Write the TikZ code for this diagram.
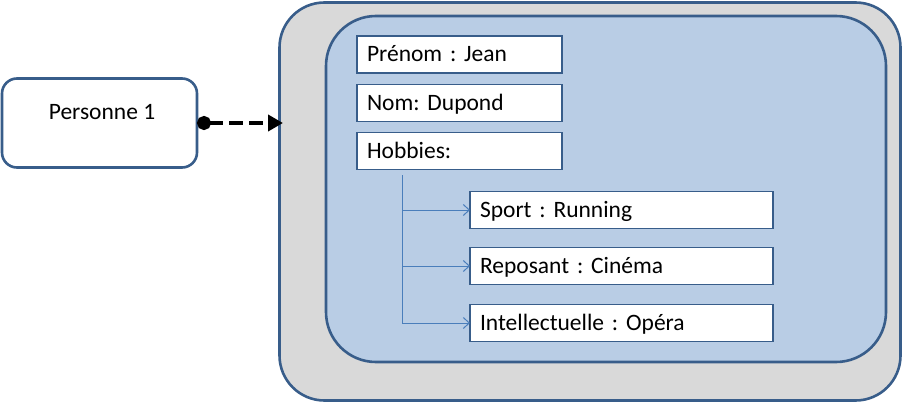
\documentclass[tikz,border=0pt]{standalone}
\usepackage{fontspec}
\setmainfont{Carlito}
\frenchspacing
\usetikzlibrary{arrows.meta,calc}
\definecolor{dkblue}{HTML}{385D8A}
\definecolor{lineblue}{HTML}{4A7EBB}
\definecolor{innerfill}{HTML}{B9CDE5}
\definecolor{outerfill}{HTML}{D9D9D9}
\tikzset{
  txt/.style={font=\fontsize{23.5}{28}\selectfont},
  roundbox/.style={draw=dkblue, line width=2.6pt, inner sep=0pt, outer sep=0pt},
  fieldbox/.style={draw=dkblue, line width=1.2pt, fill=white, txt, inner xsep=10pt, inner ysep=0pt,
     outer sep=0pt, minimum height=37pt, text height=17pt, text depth=2pt, align=left},
  link/.style={draw=lineblue, line width=1pt, -{Straight Barb[length=6pt,width=11pt]}},
}
\begin{document}
\begin{tikzpicture}[x=1pt,y=-1pt]
\useasboundingbox (0,0) rectangle (904,404);
% outer containers
\node[roundbox, fill=outerfill, rounded corners=45pt, minimum width=621pt, minimum height=398pt] (outer) at (590,201.5) {};
\node[roundbox, fill=innerfill, rounded corners=50pt, minimum width=560pt, minimum height=346pt] (inner) at (606,189) {};
% Personne 1
\node[roundbox, fill=white, rounded corners=15pt, minimum width=195pt, minimum height=89pt] (p1) at (99.5,123) {};
\node[txt, anchor=base, inner sep=0pt] (p1t) at (102,119.5) {Personne 1};
% fields
\node[fieldbox, text width=185pt] (prenom) at (459.5,54.5) {Prénom : Jean};
\node[fieldbox, text width=185pt] (nom) at (459.5,103) {Nom: Dupond};
\node[fieldbox, text width=185pt] (hobbies) at (459.5,151) {Hobbies:};
\node[fieldbox, text width=283pt] (sport) at (621.5,210) {Sport : Running};
\node[fieldbox, text width=283pt] (repos) at (621.5,266) {Reposant : Cinéma};
\node[fieldbox, text width=283pt] (intel) at (621.5,323) {Intellectuelle : Opéra};
% tree connectors
\coordinate (trunk) at (402,175);
\draw[draw=lineblue, line width=1pt] (trunk) -- (trunk |- intel.west);
\draw[link] (trunk |- sport.west) -- (sport.west);
\draw[link] (trunk |- repos.west) -- (repos.west);
\draw[link] (trunk |- intel.west) -- (intel.west);
% dashed reference arrow
\draw[line width=4pt, dash pattern=on 14pt off 6pt, shorten >=-3.5pt,
      {Circle[length=14pt,width=14pt]}-{Triangle[length=15pt,width=16pt]}]
  (p1.east) -- (p1.east -| outer.west);
\end{tikzpicture}
\end{document}
